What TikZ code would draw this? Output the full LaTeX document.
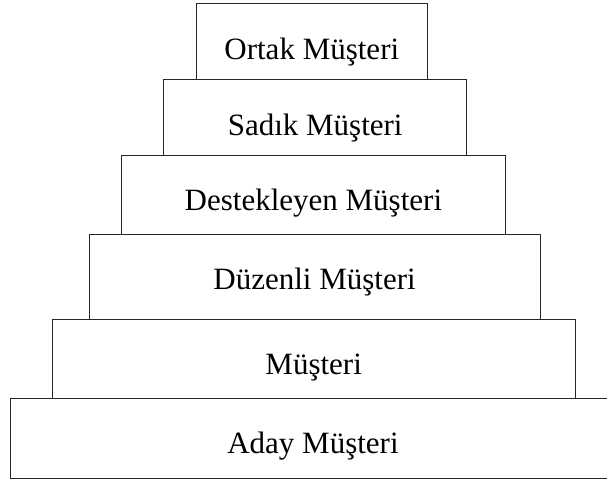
\documentclass[tikz,border=0pt]{standalone}
\usepackage{fontspec}
\setmainfont{Liberation Serif}
\begin{document}
\begin{tikzpicture}[x=1pt,y=1pt,
  tier/.style={draw=black!85, line width=1pt, fill=white},
  lbl/.style={font=\fontsize{31}{36}\selectfont, anchor=base, inner sep=0pt}]
\useasboundingbox (0,0) rectangle (607,479);
\clip (0,0) rectangle (607,479);
% boxes (bottom to top)
\draw[tier] (10,0.7) rectangle (616,80.7);
\draw[tier] (52.3,80.7) rectangle (575,159.7);
\draw[tier] (89.3,159.7) rectangle (540,244.8);
\draw[tier] (121.3,244.8) rectangle (505.5,323.3);
\draw[tier] (163.7,323.3) rectangle (466.7,399);
\draw[tier] (196.3,399) rectangle (427.3,475);
% labels
\node[lbl] (aday) at (313,25.7) {Aday Müşteri};
\node[lbl] (musteri) at (313.7,104) {Müşteri};
\node[lbl] (duzenli) at (314.6,189) {Düzenli Müşteri};
\node[lbl] (destek) at (313.4,268.3) {Destekleyen Müşteri};
\node[lbl] (sadik) at (315.2,343) {Sadık Müşteri};
\node[lbl] (ortak) at (311.8,419) {Ortak Müşteri};
\end{tikzpicture}
\end{document}
